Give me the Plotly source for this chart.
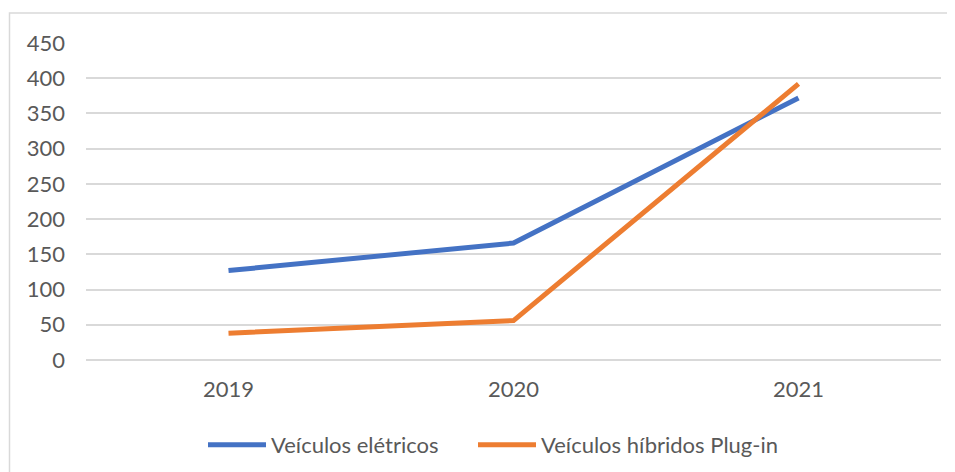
import plotly.graph_objects as go

years = ["2019", "2020", "2021"]
eletricos = [127, 166, 372]
hibridos = [38, 56, 392]
series_names = ["Veículos elétricos", "Veículos híbridos Plug-in"]
y_ticks = [0, 50, 100, 150, 200, 250, 300, 350, 400, 450]

FONT = "Lato"
TXT = "#595959"
GRID = "#d9d9d9"

# the page body adds an 8px offset; margins below compensate for it
L, R, T, B = 78, 22, 35, 120
PW = 955 - L - R
PH = 472 - T - B

fig = go.Figure()
fig.add_trace(go.Scatter(x=years, y=eletricos, mode="lines", name=series_names[0],
                         line=dict(color="#4472C4", width=5), legend="legend"))
fig.add_trace(go.Scatter(x=years, y=hibridos, mode="lines", name=series_names[1],
                         line=dict(color="#ED7D31", width=5), legend="legend2"))

leg_y = -(445 - 8 - (T + PH)) / PH
leg_common = dict(orientation="h", xanchor="left", y=leg_y, yanchor="middle",
                  font=dict(family=FONT, size=22, color=TXT),
                  itemwidth=58, bgcolor="rgba(0,0,0,0)")

fig.update_layout(
    width=955, height=472,
    margin=dict(l=L, r=R, t=T, b=B, autoexpand=False),
    paper_bgcolor="white", plot_bgcolor="white",
    font=dict(family=FONT, size=22, color=TXT),
    showlegend=True,
    legend=dict(x=(203 - 8 - L) / PW, **leg_common),
    legend2=dict(x=(473 - 8 - L) / PW, **leg_common),
    xaxis=dict(type="category", range=[-0.5, 2.5], showgrid=False, zeroline=False,
               showline=False, ticks="", ticklabelstandoff=14,
               tickfont=dict(family=FONT, size=22, color=TXT)),
    yaxis=dict(range=[0, 450], tickvals=y_ticks, showgrid=True, gridcolor=GRID,
               gridwidth=1.5, zeroline=True, zerolinecolor=GRID, zerolinewidth=1.5,
               showline=False, ticks="", ticklabelstandoff=20,
               tickfont=dict(family=FONT, size=22, color=TXT)),
    shapes=[dict(type="rect", xref="paper", yref="paper",
                 x0=(9.5 - 8 - L) / PW, x1=1.05, y0=-0.5,
                 y1=(T + PH - (13 - 8)) / PH,
                 line=dict(color=GRID, width=1.5), fillcolor="rgba(0,0,0,0)",
                 layer="below")],
)

fig.write_html("out.html")
